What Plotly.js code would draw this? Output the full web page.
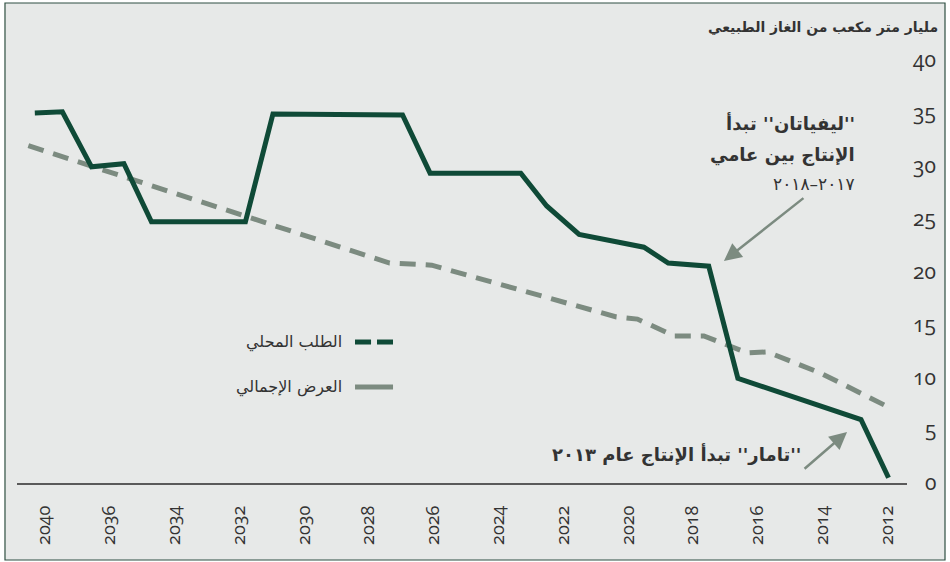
<!DOCTYPE html>
<html>
<head>
<meta charset="utf-8">
<script src="https://cdn.plot.ly/plotly-3.0.1.min.js"></script>
<style>
html,body{margin:0;padding:0;background:#fff;}
.xtick text, .ytick text { font-feature-settings: "onum" 1; font-variant-numeric: oldstyle-nums; }
</style>
</head>
<body>
<div id="chart" style="width:950px;height:562px;"></div>
<script>
// ---- Data ----
const supplyYears  = [2038.3, 2037.45, 2036.55, 2035.55, 2034.7, 2031.8, 2030.95, 2026.95, 2026.1, 2023.3, 2022.5, 2021.5, 2019.5, 2018.75, 2017.5, 2016.6, 2012.8, 2011.95];
const supplyValues = [35.0, 35.1, 29.9, 30.2, 24.7, 24.7, 34.9, 34.8, 29.3, 29.3, 26.2, 23.5, 22.3, 20.8, 20.5, 9.9, 6.0, 0.5];

const demandYears  = [2038.5, 2027.35, 2026.05, 2020.35, 2019.7, 2018.55, 2017.65, 2016.3, 2015.7, 2014.05, 2011.9];
const demandValues = [31.9, 20.8, 20.6, 15.7, 15.5, 13.9, 13.9, 12.3, 12.4, 10.4, 7.1];

const xTickVals = [2038, 2036, 2034, 2032, 2030, 2028, 2026, 2024, 2022, 2020, 2018, 2016, 2014, 2012];
const xTickText = ["2040", "2036", "2034", "2032", "2030", "2028", "2026", "2024", "2022", "2020", "2018", "2016", "2014", "2012"];
const yTickVals = [0, 5, 10, 15, 20, 25, 30, 35, 40];
const yTickText = ["\u20070", "\u20075", "10", "15", "20", "25", "30", "35", "40"];

const legendLabels = ["الطلب المحلي", "العرض الإجمالي"];
const unitTitle = "مليار متر مكعب من الغاز الطبيعي";
const noteLeviathan = ["\u200F''ليفياتان'' تبدأ\u200F", "الإنتاج بين عامي", "\u200F٢٠١٧–٢٠١٨\u200F"];
const noteTamar = "\u200F''تامار'' تبدأ الإنتاج عام ٢٠١٣\u200F";

const darkGreen = "#0f4a37";
const grayGreen = "#7c8b80";
const bg = "#e7e9e8";
const textCol = "#333333";
const arabicFont = "DejaVu Sans, Noto Sans, sans-serif";
const numFont = "Open Sans, Noto Sans, DejaVu Sans, sans-serif";

const traces = [
  {
    x: demandYears, y: demandValues, type: "scatter", mode: "lines",
    line: {color: grayGreen, width: 5, dash: "16px,10px"},
    showlegend: false, hoverinfo: "skip"
  },
  {
    x: supplyYears, y: supplyValues, type: "scatter", mode: "lines",
    line: {color: darkGreen, width: 5},
    showlegend: false, hoverinfo: "skip"
  }
];

const layout = {
  width: 950, height: 562,
  margin: {l: 17, r: 43, t: 60, b: 79, pad: 0},
  paper_bgcolor: "#ffffff",
  plot_bgcolor: "rgba(0,0,0,0)",
  showlegend: false,
  xaxis: {
    range: [2038.85, 2011.38],
    tickmode: "array", tickvals: xTickVals, ticktext: xTickText,
    tickangle: -90, ticks: "", ticklabelstandoff: 14,
    showgrid: false, zeroline: false,
    showline: true, linecolor: "#5a5a5a", linewidth: 1.5,
    tickfont: {family: numFont, size: 18, color: textCol}
  },
  yaxis: {
    range: [0, 40], side: "right",
    tickmode: "array", tickvals: yTickVals, ticktext: yTickText,
    ticks: "", ticklabelstandoff: 5,
    showgrid: false, zeroline: false, showline: false,
    tickfont: {family: numFont, size: 21, color: textCol}
  },
  shapes: [
    {type: "rect", xref: "paper", yref: "paper", layer: "below",
     x0: -0.0135, x1: 1.0427, y0: -0.182, y1: 1.1348,
     fillcolor: bg, line: {color: "#2f4f42", width: 1.2}},
    // legend symbols
    {type: "line", xref: "paper", yref: "paper", x0: 0.3798, x1: 0.3978, y0: 0.3333, y1: 0.3333,
     line: {color: darkGreen, width: 5}},
    {type: "line", xref: "paper", yref: "paper", x0: 0.4045, x1: 0.4225, y0: 0.3333, y1: 0.3333,
     line: {color: darkGreen, width: 5}},
    {type: "line", xref: "paper", yref: "paper", x0: 0.3798, x1: 0.4225, y0: 0.2270, y1: 0.2270,
     line: {color: grayGreen, width: 5}}
  ],
  annotations: [
    {xref: "paper", yref: "paper", x: 1.0371, y: 1.0757, xanchor: "right", yanchor: "middle",
     text: "<b>" + unitTitle + "</b>", showarrow: false,
     font: {family: arabicFont, size: 14, color: textCol}},
    {xref: "paper", yref: "paper", x: 0.3674, y: 0.3333, xanchor: "right", yanchor: "middle",
     text: legendLabels[0], showarrow: false,
     font: {family: arabicFont, size: 16, color: textCol}},
    {xref: "paper", yref: "paper", x: 0.3674, y: 0.2270, xanchor: "right", yanchor: "middle",
     text: legendLabels[1], showarrow: false,
     font: {family: arabicFont, size: 16, color: textCol}},
    {xref: "paper", yref: "paper", x: 0.9438, y: 0.851, xanchor: "right", yanchor: "middle",
     text: "<b>" + noteLeviathan[0] + "</b>", showarrow: false,
     font: {family: arabicFont, size: 18, color: textCol}},
    {xref: "paper", yref: "paper", x: 0.9438, y: 0.776, xanchor: "right", yanchor: "middle",
     text: "<b>" + noteLeviathan[1] + "</b>", showarrow: false,
     font: {family: arabicFont, size: 18, color: textCol}},
    {xref: "paper", yref: "paper", x: 0.9438, y: 0.707, xanchor: "right", yanchor: "middle",
     text: noteLeviathan[2], showarrow: false,
     font: {family: arabicFont, size: 17, color: textCol}},
    {xref: "paper", yref: "paper", x: 0.8831, y: 0.0662, xanchor: "right", yanchor: "middle",
     text: "<b>" + noteTamar + "</b>", showarrow: false,
     font: {family: arabicFont, size: 18, color: textCol}},
    // arrows
    {x: 2017.03, y: 21.0, xref: "x", yref: "y", text: "", showarrow: true,
     ax: 81, ay: -64, arrowhead: 2, arrowsize: 1.4, arrowwidth: 2.5, arrowcolor: grayGreen},
    {x: 2013.23, y: 4.82, xref: "x", yref: "y", text: "", showarrow: true,
     ax: -44, ay: 38, arrowhead: 2, arrowsize: 1.4, arrowwidth: 2.5, arrowcolor: grayGreen}
  ]
};

Plotly.newPlot("chart", traces, layout, {staticPlot: true, displayModeBar: false});
</script>
</body>
</html>
